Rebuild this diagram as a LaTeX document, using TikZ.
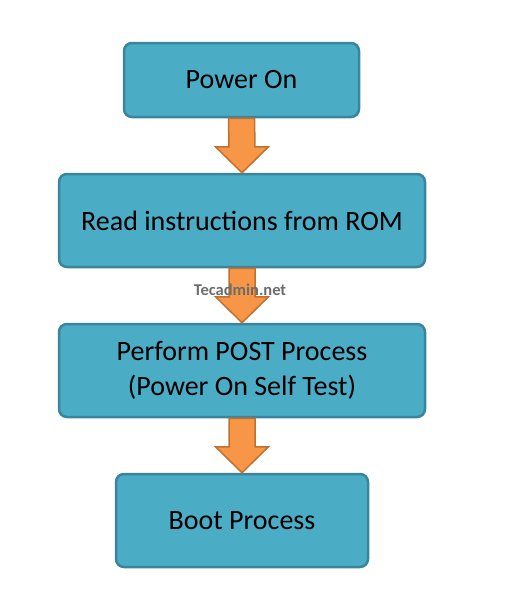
\documentclass[tikz,border=0pt]{standalone}
\usepackage{fontspec}
\setmainfont{Carlito}
\usetikzlibrary{calc}
\definecolor{boxfill}{HTML}{4BACC6}
\definecolor{boxedge}{HTML}{3A859B}
\definecolor{arrfill}{HTML}{F79646}
\definecolor{arredge}{HTML}{C0712F}
\newcommand{\blockarrow}[2]{%
  \draw[flowarrow] ($(#1.south)+(-13,0)$) -- ($(#2.north)+(-13,-26)$) -- ($(#2.north)+(-26.5,-26)$)
    -- (#2.north) -- ($(#2.north)+(26.5,-26)$) -- ($(#2.north)+(13,-26)$) -- ($(#1.south)+(13,0)$) -- cycle;}
\begin{document}
\begin{tikzpicture}[x=1pt,y=-1pt,
  stepbox/.style={draw=boxedge,fill=boxfill,line width=2.5pt,rounded corners=8pt,
    align=center,inner sep=0pt,font=\fontsize{28}{35}\selectfont},
  flowarrow/.style={draw=arredge,fill=arrfill,line width=1.5pt,line join=miter}]
  \useasboundingbox (0,0) rectangle (508,600);
  \node[stepbox,minimum width=235,minimum height=74] (power) at (241.5,80) {Power On};
  \node[stepbox,minimum width=366,minimum height=93] (rom) at (242,220.5) {Read instructions from ROM};
  \node[stepbox,minimum width=366,minimum height=93] (post) at (242,370.5) {Perform POST Process\\(Power On Self Test)};
  \node[stepbox,minimum width=252,minimum height=93] (boot) at (242,520.5) {Boot Process};
  \blockarrow{power}{rom}
  \blockarrow{rom}{post}
  \blockarrow{post}{boot}
  % watermark
  \node[text=gray!85!black,font=\fontsize{16.5}{16.5}\selectfont\bfseries] (mark) at (240,290) {Tecadmin.net};
\end{tikzpicture}
\end{document}
